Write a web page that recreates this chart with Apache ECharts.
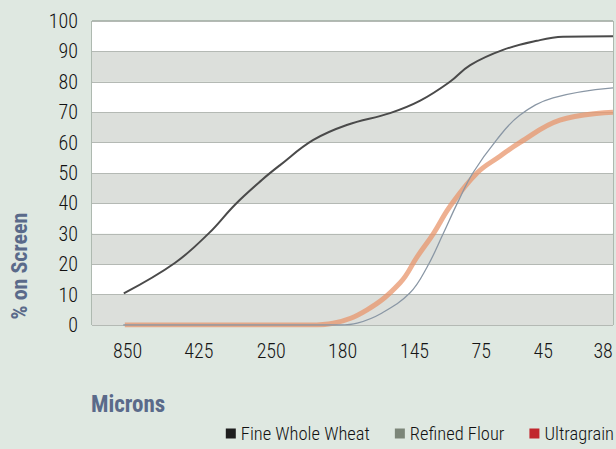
<!DOCTYPE html>
<html>
<head>
<meta charset="utf-8">
<script src="https://cdn.jsdelivr.net/npm/echarts@6/dist/echarts.min.js"></script>
<style>
html,body{margin:0;padding:0;background:#dfe8e1;}
#chart{width:616px;height:449px;}
</style>
</head>
<body>
<div id="chart"></div>
<script>
// Sieve sizes (microns) and their positions along the x axis (0-100 scale)
const sieveLabels = ['850', '425', '250', '180', '145', '75', '45', '38'];
const sievePositions = [6.85, 20.5, 34.4, 48.1, 61.9, 74.7, 86.6, 98.1];

// Series points: [x position, % on screen]
const fineWholeWheat = [
  [6.1, 10.4], [15.9, 20.4], [22.5, 30.3], [27.4, 39.5], [32.6, 47.7],
  [36.1, 52.6], [42.4, 60.8], [48.9, 65.8], [57.2, 69.7], [63.0, 73.8],
  [68.7, 80.0], [72.6, 85.5], [78.9, 90.5], [85.4, 93.5], [90.4, 94.8], [100, 95.0]
];
const refinedFlour = [
  [6.0, 0], [47.6, 0], [50.9, 0.6], [55.5, 3.8], [61.0, 10.5], [64.3, 19.0],
  [67.4, 30.0], [70.1, 40.0], [73.1, 50.0], [77.7, 61.0], [82.1, 69.0],
  [88.5, 74.7], [100, 78.0]
];
const ultragrain = [
  [6.3, 0], [41.8, 0], [46.3, 0.6], [52.8, 5.0], [59.1, 13.8], [62.4, 22.4],
  [65.5, 30.0], [68.7, 39.0], [73.9, 50.0], [78.3, 55.5], [82.1, 60.0],
  [89.8, 67.4], [100, 70.0]
];

const FONT = '"Roboto Condensed", "Liberation Sans", Arial, sans-serif';

const chart = echarts.init(document.getElementById('chart'), null, {renderer: 'svg'});
chart.setOption({
  backgroundColor: '#dfe8e1',
  animation: false,
  grid: {
    left: 92, right: 3, top: 21, bottom: 124,
    show: true, borderColor: '#7d8a7e', borderWidth: 1, backgroundColor: 'transparent'
  },
  xAxis: {
    type: 'value', min: 0, max: 100,
    axisLine: {show: false}, axisTick: {show: false}, splitLine: {show: false},
    axisLabel: {
      customValues: sievePositions,
      formatter: function (v) {
        let best = 0;
        for (let i = 0; i < sievePositions.length; i++) {
          if (Math.abs(sievePositions[i] - v) < Math.abs(sievePositions[best] - v)) best = i;
        }
        return sieveLabels[best];
      },
      color: '#151515', fontFamily: FONT, fontWeight: 300, fontSize: 20, margin: 16
    }
  },
  yAxis: {
    type: 'value', min: 0, max: 100, interval: 10,
    axisLine: {show: false}, axisTick: {show: false},
    axisLabel: {color: '#111', fontFamily: FONT, fontWeight: 300, fontSize: 20, margin: 14},
    splitLine: {show: true, lineStyle: {color: '#b4b9b4', width: 1}},
    splitArea: {show: true, areaStyle: {color: ['#dcdfdb', '#ffffff']}}
  },
  legend: {
    right: 2, top: 424, padding: 0, icon: 'rect', itemWidth: 10, itemHeight: 10, itemGap: 25,
    textStyle: {color: '#111', fontFamily: FONT, fontWeight: 300, fontSize: 18.5, padding: [0, 0, 0, 0]},
    data: [
      {name: 'Fine Whole Wheat', itemStyle: {color: '#1e1e1e'}},
      {name: 'Refined Flour', itemStyle: {color: '#7c8679'}},
      {name: 'Ultragrain', itemStyle: {color: '#c1272d'}}
    ]
  },
  graphic: [
    {type: 'text', x: 19, y: 266, rotation: Math.PI / 2,
     style: {text: '% on Screen', font: 'bold 22px ' + FONT, fill: '#5a6a8a', align: 'center', verticalAlign: 'middle'}},
    {type: 'text', x: 91, y: 404,
     style: {text: 'Microns', font: 'bold 23px ' + FONT, fill: '#5a6a8a', align: 'left', verticalAlign: 'middle'}}
  ],
  series: [
    {name: 'Ultragrain', type: 'line', data: ultragrain, smooth: 0.4, showSymbol: false,
     lineStyle: {color: '#e8956c', width: 5, opacity: 0.75}, itemStyle: {color: '#e8956c'}, z: 2},
    {name: 'Refined Flour', type: 'line', data: refinedFlour, smooth: 0.4, showSymbol: false,
     lineStyle: {color: '#8a97a5', width: 1.3}, itemStyle: {color: '#8a97a5'}, z: 3},
    {name: 'Fine Whole Wheat', type: 'line', data: fineWholeWheat, smooth: 0.4, showSymbol: false,
     lineStyle: {color: '#4a4a4a', width: 2}, itemStyle: {color: '#4a4a4a'}, z: 4}
  ]
});
</script>
</body>
</html>
